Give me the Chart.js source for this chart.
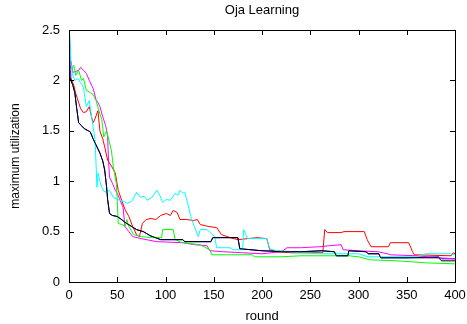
<!DOCTYPE html>
<html>
<head>
<meta charset="utf-8">
<title>Oja Learning</title>
<script src="https://cdn.jsdelivr.net/npm/chart.js@4/dist/chart.umd.min.js"></script>
<style>
  html, body { margin: 0; padding: 0; background: #fff; }
  #wrap { width: 467px; height: 324px; }
</style>
</head>
<body>
<div id="wrap"><canvas id="ojaChart" width="467" height="324"></canvas></div>
<script>
// rounds / max utilization, one pair of arrays per run
const redRounds = [0, 3, 5, 7, 10, 12, 15, 18, 21, 23, 25, 27, 30, 32, 35, 37, 40, 44, 48, 51, 55, 58, 62, 66, 70, 73, 76, 80, 85, 90, 95, 101, 105, 108, 112, 115, 122, 129, 133, 136, 145, 153, 158, 167, 175, 185, 195, 205, 208, 215, 230, 250, 263, 265, 268, 282, 285, 306, 309, 313, 331, 333, 352, 356, 358, 396, 398, 400];
const redUtil   = [2.05, 2.0, 1.95, 1.87, 1.78, 1.72, 1.68, 1.69, 1.74, 1.65, 1.58, 1.62, 1.70, 1.50, 1.42, 1.34, 1.21, 1.15, 1.08, 0.91, 0.80, 0.72, 0.65, 0.55, 0.47, 0.45, 0.58, 0.62, 0.63, 0.62, 0.66, 0.68, 0.66, 0.71, 0.69, 0.62, 0.62, 0.61, 0.62, 0.57, 0.55, 0.54, 0.47, 0.44, 0.42, 0.43, 0.44, 0.43, 0.32, 0.30, 0.29, 0.29, 0.29, 0.52, 0.49, 0.49, 0.50, 0.50, 0.42, 0.35, 0.35, 0.39, 0.39, 0.30, 0.27, 0.26, 0.29, 0.28];

const greenRounds = [0, 3, 5, 7, 10, 13, 15, 18, 22, 25, 28, 31, 34, 36, 39, 42, 44, 46, 49, 50, 51, 55, 58, 60, 62, 67, 75, 85, 96, 97, 108, 110, 117, 136, 146, 148, 170, 190, 192, 220, 240, 290, 300, 312, 340, 370, 400];
const greenUtil   = [2.10, 2.12, 2.15, 2.05, 2.10, 2.0, 2.02, 1.90, 1.88, 1.86, 1.80, 1.70, 1.61, 1.44, 1.50, 1.38, 1.30, 1.14, 0.98, 0.81, 0.58, 0.57, 0.55, 0.62, 0.55, 0.47, 0.45, 0.44, 0.44, 0.52, 0.52, 0.42, 0.39, 0.37, 0.32, 0.27, 0.27, 0.27, 0.25, 0.25, 0.26, 0.26, 0.25, 0.22, 0.21, 0.19, 0.18];

// blue mostly runs underneath the black run
const blueRounds = [0, 1, 2, 4, 6, 8, 10, 13, 16, 20, 22, 25, 27, 30, 32, 35, 37, 39, 40, 42, 45, 50, 53, 57, 60, 65, 70, 77, 84, 95, 118, 120, 147, 149, 175, 177, 200, 240, 262, 275, 277, 289, 290, 308, 310, 321, 323, 350, 383, 386, 400];
const blueUtil   = [2.6, 2.6, 2.0, 1.95, 1.88, 1.72, 1.58, 1.55, 1.52, 1.50, 1.49, 1.42, 1.38, 1.32, 1.28, 1.20, 1.11, 0.94, 0.82, 0.68, 0.66, 0.65, 0.63, 0.60, 0.58, 0.55, 0.52, 0.50, 0.46, 0.42, 0.42, 0.40, 0.40, 0.44, 0.44, 0.33, 0.31, 0.30, 0.31, 0.30, 0.26, 0.26, 0.31, 0.30, 0.28, 0.28, 0.24, 0.24, 0.25, 0.23, 0.23];

const magentaRounds = [0, 2, 4, 7, 10, 12, 15, 18, 21, 25, 28, 30, 32, 35, 38, 40, 41, 42, 45, 48, 50, 53, 56, 58, 62, 66, 75, 91, 118, 130, 143, 146, 160, 180, 200, 220, 226, 240, 260, 270, 282, 284, 300, 320, 330, 333, 360, 384, 400];
const magentaUtil   = [2.0, 2.19, 2.08, 2.09, 2.10, 2.13, 2.10, 2.07, 2.0, 1.92, 1.81, 1.78, 1.74, 1.64, 1.55, 1.45, 1.20, 1.04, 0.98, 0.91, 0.88, 0.81, 0.74, 0.55, 0.50, 0.45, 0.43, 0.40, 0.39, 0.37, 0.36, 0.31, 0.30, 0.29, 0.28, 0.30, 0.34, 0.34, 0.35, 0.36, 0.37, 0.32, 0.31, 0.30, 0.28, 0.27, 0.26, 0.24, 0.23];

const cyanRounds = [0, 1, 2, 4, 6, 9, 12, 15, 16, 18, 21, 24, 27, 29, 30, 32, 34, 36, 39, 42, 46, 50, 53, 57, 60, 65, 70, 74, 78, 81, 86, 91, 94, 97, 101, 105, 110, 113, 115, 118, 120, 123, 127, 134, 136, 143, 151, 153, 167, 170, 180, 181, 185, 205, 208, 215, 240, 260, 300, 310, 360, 370, 395, 400];
const cyanUtil   = [2.6, 2.6, 2.17, 2.05, 2.0, 2.02, 1.98, 1.93, 1.86, 1.74, 1.80, 1.60, 1.41, 0.94, 1.08, 1.0, 0.94, 0.90, 0.89, 0.91, 0.84, 0.82, 0.81, 0.80, 0.78, 0.80, 0.89, 0.84, 0.85, 0.81, 0.84, 0.91, 0.86, 0.79, 0.82, 0.81, 0.88, 0.86, 0.91, 0.88, 0.89, 0.78, 0.62, 0.45, 0.52, 0.52, 0.45, 0.34, 0.34, 0.32, 0.32, 0.52, 0.43, 0.43, 0.33, 0.31, 0.29, 0.28, 0.28, 0.25, 0.25, 0.28, 0.28, 0.27];

const blackRounds = [0, 2, 4, 6, 8, 10, 13, 16, 20, 22, 25, 27, 30, 32, 35, 37, 39, 40, 42, 45, 50, 53, 57, 60, 65, 70, 77, 84, 95, 118, 120, 147, 149, 175, 177, 200, 220, 240, 262, 275, 277, 289, 290, 308, 310, 321, 323, 352, 383, 386, 400];
const blackUtil   = [2.05, 2.0, 1.95, 1.88, 1.72, 1.58, 1.55, 1.52, 1.50, 1.49, 1.42, 1.38, 1.32, 1.28, 1.20, 1.11, 0.94, 0.82, 0.68, 0.66, 0.65, 0.63, 0.60, 0.58, 0.55, 0.52, 0.50, 0.46, 0.42, 0.42, 0.40, 0.40, 0.44, 0.44, 0.33, 0.31, 0.30, 0.30, 0.31, 0.30, 0.26, 0.26, 0.31, 0.30, 0.28, 0.28, 0.24, 0.24, 0.24, 0.21, 0.21];

const xTicks = [0, 50, 100, 150, 200, 250, 300, 350, 400];
const yTicks = [0, 0.5, 1, 1.5, 2, 2.5];

function pts(rounds, vals) {
    return rounds.map((r, i) => ({ x: r, y: vals[i] }));
}

function run(data, color, order) {
    return {
        data: data,
        borderColor: color,
        borderWidth: 1,
        pointRadius: 0,
        fill: false,
        tension: 0,
        order: order
    };
}

// gnuplot style frame with inward ticks on all four sides
const framePlugin = {
    id: 'frame',
    afterDatasetsDraw(chart) {
        const { ctx, chartArea: a, scales } = chart;
        const len = 5;
        ctx.save();
        ctx.strokeStyle = '#000';
        ctx.lineWidth = 1;
        ctx.beginPath();
        xTicks.forEach(v => {
            const x = Math.round(scales.x.getPixelForValue(v)) + 0.5;
            ctx.moveTo(x, a.bottom); ctx.lineTo(x, a.bottom - len);
            ctx.moveTo(x, a.top); ctx.lineTo(x, a.top + len);
        });
        yTicks.forEach(v => {
            const y = Math.round(scales.y.getPixelForValue(v)) + 0.5;
            ctx.moveTo(a.left, y); ctx.lineTo(a.left + len, y);
            ctx.moveTo(a.right, y); ctx.lineTo(a.right - len, y);
        });
        ctx.stroke();
        ctx.strokeRect(Math.round(a.left) + 0.5, Math.round(a.top) + 0.5,
                       Math.round(a.right - a.left), Math.round(a.bottom - a.top));
        ctx.restore();
    }
};

Chart.defaults.font.family = '"Liberation Sans", Arial, sans-serif';
Chart.defaults.color = '#000';

function createOjaChart() {
    const ctx = document.getElementById('ojaChart').getContext('2d');
    new Chart(ctx, {
        type: 'line',
        data: {
            datasets: [
                run(pts(redRounds, redUtil), '#ff0000', 4),
                run(pts(greenRounds, greenUtil), '#00ff00', 3),
                run(pts(blueRounds, blueUtil), '#0000ff', 6),
                run(pts(magentaRounds, magentaUtil), '#ff00ff', 5),
                run(pts(cyanRounds, cyanUtil), '#00ffff', 2),
                run(pts(blackRounds, blackUtil), '#000000', 1)
            ]
        },
        options: {
            responsive: false,
            animation: false,
            layout: { padding: { left: 0, right: 12, top: 0, bottom: 0 } },
            plugins: {
                legend: { display: false },
                tooltip: { enabled: false },
                title: {
                    display: true,
                    text: 'Oja Learning',
                    fullSize: false,
                    font: { size: 13, weight: 'normal' },
                    padding: { top: 3, bottom: 11.4 }
                }
            },
            scales: {
                x: {
                    type: 'linear',
                    min: 0,
                    max: 400,
                    afterFit: s => {
                        s.height = 42;
                        s.paddingLeft = 0;
                        s.paddingRight = 0;
                    },
                    afterBuildTicks: s => { s.ticks = xTicks.map(v => ({ value: v })); },
                    grid: { display: false, drawTicks: false },
                    border: { display: false },
                    ticks: { padding: 6, font: { size: 13 }, maxRotation: 0, autoSkip: false },
                    title: { display: true, text: 'round', font: { size: 13 }, padding: { top: 3, bottom: 0 } }
                },
                y: {
                    min: 0,
                    max: 2.5,
                    afterFit: s => { s.width = 69; },
                    afterBuildTicks: s => { s.ticks = yTicks.map(v => ({ value: v })); },
                    grid: { display: false, drawTicks: false },
                    border: { display: false },
                    ticks: { padding: 9, font: { size: 13 }, callback: v => String(v) },
                    title: { display: true, text: 'maximum utilization', font: { size: 12 }, padding: { top: 8, bottom: 0 } }
                }
            }
        },
        plugins: [framePlugin]
    });
}

document.addEventListener('DOMContentLoaded', createOjaChart);
</script>
</body>
</html>
